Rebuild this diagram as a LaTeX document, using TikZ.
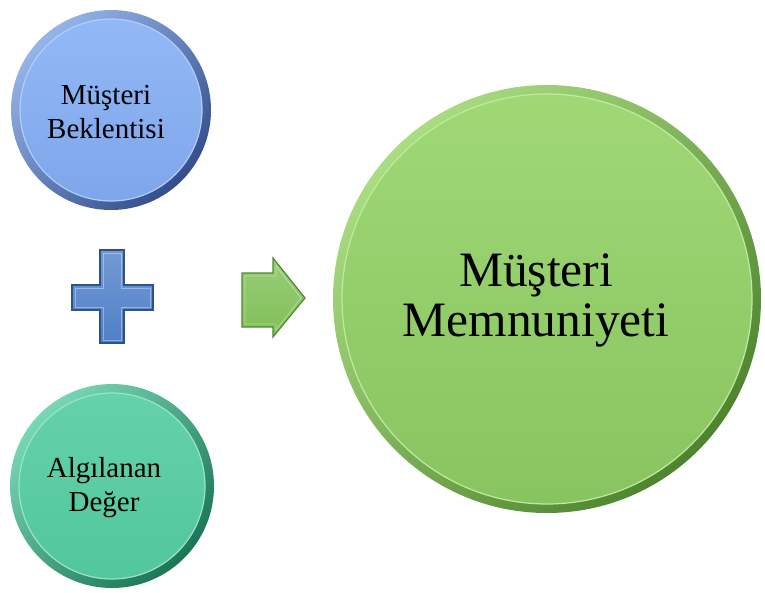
\documentclass[tikz,border=0pt]{standalone}
\usepackage{fontspec}
\setmainfont{Liberation Serif}
\usetikzlibrary{positioning}

\definecolor{blueRimLight}{RGB}{150,180,232}
\definecolor{blueRimDark}{RGB}{52,78,140}
\definecolor{blueTop}{RGB}{146,184,246}
\definecolor{blueFill}{RGB}{126,166,234}
\definecolor{blueLine}{RGB}{176,206,250}
\definecolor{tealRimLight}{RGB}{120,215,180}
\definecolor{tealRimDark}{RGB}{28,118,86}
\definecolor{tealTop}{RGB}{100,210,170}
\definecolor{tealFill}{RGB}{82,198,156}
\definecolor{tealLine}{RGB}{150,230,200}
\definecolor{greenRimLight}{RGB}{170,220,130}
\definecolor{greenRimDark}{RGB}{78,132,46}
\definecolor{greenTop}{RGB}{160,216,118}
\definecolor{greenFill}{RGB}{136,196,96}
\definecolor{greenLine}{RGB}{190,235,160}
\definecolor{plusFill}{RGB}{80,128,200}
\definecolor{plusEdge}{RGB}{46,82,140}
\definecolor{arrowFill}{RGB}{128,192,86}
\definecolor{arrowEdge}{RGB}{82,138,50}

\begin{document}
\begin{tikzpicture}[
    x=1pt, y=-1pt,
    rim/.style n args={2}{circle, inner sep=0pt, top color=#1, bottom color=#2, shading angle=45},
    face/.style n args={3}{circle, inner sep=0pt, line width=1.2pt,
                           draw=#1, top color=#2, bottom color=#3},
    smalltext/.style={align=center, font=\fontsize{29pt}{34pt}\selectfont},
    bigtext/.style={align=center, font=\fontsize{49.5pt}{50pt}\selectfont},
    bevel/.style={line width=0.9pt, draw=white, opacity=0.35}
]
    \useasboundingbox (0,0) rectangle (765,592);

    % Beklenti
    \node[rim={blueRimLight}{blueRimDark}, minimum size=200pt] (beklentiRim) at (111,110) {};
    \node[face={blueLine}{blueTop}{blueFill}, minimum size=182pt] (beklenti) at (beklentiRim) {};
    \node[smalltext] (beklentiText) at ([xshift=-5pt, yshift=-2pt]beklenti.center) {Müşteri\\Beklentisi};

    % Plus
    \draw[plusEdge, line width=1.2pt, top color=plusFill!80!white, bottom color=plusFill]
        (100,250) -- (124,250) -- (124,285) -- (153,285) -- (153,310) -- (124,310) --
        (124,343) -- (100,343) -- (100,310) -- (72,310) -- (72,285) -- (100,285) -- cycle;
    \draw[bevel]
        (103,253) -- (121,253) -- (121,288) -- (150,288) -- (150,307) -- (121,307) --
        (121,340) -- (103,340) -- (103,307) -- (75,307) -- (75,288) -- (103,288) -- cycle;

    % Algilanan deger
    \node[rim={tealRimLight}{tealRimDark}, minimum size=204pt] (degerRim) at (112,486) {};
    \node[face={tealLine}{tealTop}{tealFill}, minimum size=186pt] (deger) at (degerRim) {};
    \node[smalltext] (degerText) at ([xshift=-8pt, yshift=-2pt]deger.center) {Algılanan\\Değer};

    % Arrow
    \draw[arrowEdge, line width=1.2pt, top color=arrowFill!80!white, bottom color=arrowFill]
        (242,273) -- (273,273) -- (273,258) -- (305,298) -- (273,337) -- (273,327) --
        (242,327) -- cycle;
    \draw[bevel]
        (245,276) -- (276,276) -- (276,266) -- (301,298) -- (276,330) -- (276,324) --
        (245,324) -- cycle;

    % Memnuniyet
    \node[rim={greenRimLight}{greenRimDark}, minimum size=428pt] (memnuniyetRim) at (547,299) {};
    \node[face={greenLine}{greenTop}{greenFill}, minimum size=410pt] (memnuniyet) at (memnuniyetRim) {};
    \node[bigtext] (memnuniyetText) at ([xshift=-11pt, yshift=-1pt]memnuniyet.center) {Müşteri\\Memnuniyeti};

\end{tikzpicture}
\end{document}
